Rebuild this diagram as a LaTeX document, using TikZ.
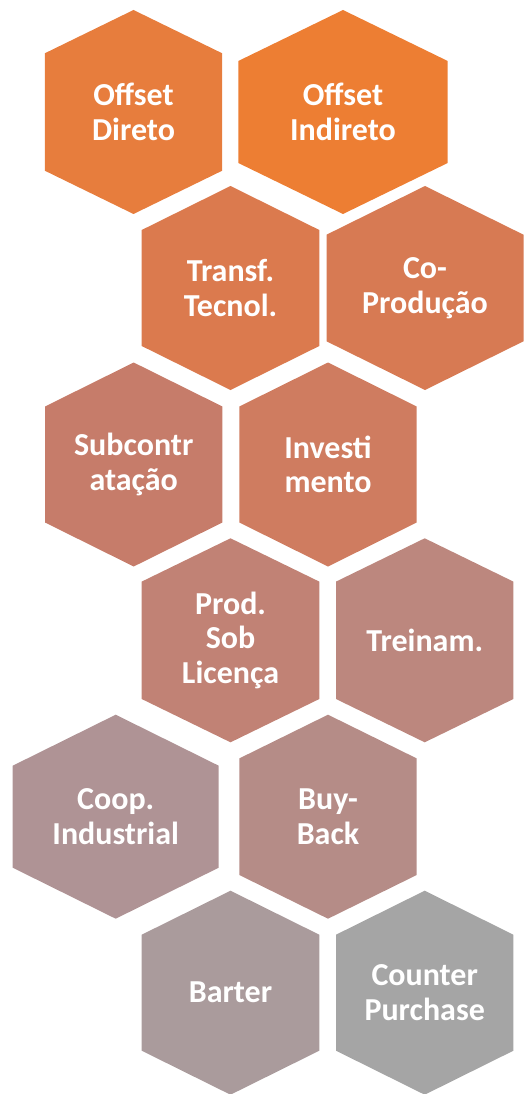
\documentclass[tikz,border=0pt]{standalone}
\usepackage{fontspec}
\setmainfont{Carlito}
\definecolor{cA}{HTML}{E77D3D}
\definecolor{cB}{HTML}{ED7E33}
\definecolor{cC}{HTML}{DB7A4E}
\definecolor{cD}{HTML}{D77A53}
\definecolor{cE}{HTML}{C67C6A}
\definecolor{cF}{HTML}{CF7C60}
\definecolor{cG}{HTML}{C18275}
\definecolor{cH}{HTML}{BC877E}
\definecolor{cI}{HTML}{AF9395}
\definecolor{cJ}{HTML}{B58C87}
\definecolor{cK}{HTML}{AA9B9C}
\definecolor{cL}{HTML}{A5A5A5}
\tikzset{hexlabel/.style={text=white, font=\bfseries\fontsize{32}{34.5}\selectfont, align=center, inner sep=0pt}}
\newcommand{\hexcell}[7]{%
  \fill[#6] (#2,#3-102) -- (#2+#4,#3-#5) -- (#2+#4,#3+#5) -- (#2,#3+102) -- (#2-#4,#3+#5) -- (#2-#4,#3-#5) -- cycle;
  \node[hexlabel] (#1) at (#2,#3) {#7};
}
\begin{document}
\begin{tikzpicture}[x=1pt,y=-1pt]
\useasboundingbox (0,0) rectangle (524,1094);
\hexcell{direto}{133.5}{112}{88.7}{58.7}{cA}{Offset\\Direto}
\hexcell{indireto}{343}{112}{104.7}{51}{cB}{Offset\\Indireto}
\hexcell{transf}{230.5}{288}{88.8}{58}{cC}{Transf.\\Tecnol.}
\hexcell{coprod}{425}{288}{98.5}{53.3}{cD}{Co-\\Produção}
\hexcell{subcontr}{133.7}{464.5}{88.7}{58}{cE}{Subcontr\\atação}
\hexcell{invest}{328}{464.5}{88.7}{58}{cF}{Investi\\mento}
\hexcell{prod}{230.5}{640.3}{88.8}{58.7}{cG}{Prod.\\Sob\\Licença}
\hexcell{treinam}{424.7}{640.3}{88.7}{58.7}{cH}{Treinam.}
\hexcell{coop}{115.7}{816.7}{103}{51}{cI}{Coop.\\Industrial}
\hexcell{buyback}{328}{816.7}{88.7}{58.3}{cJ}{Buy-\\Back}
\hexcell{barter}{230.5}{992.7}{88.8}{58}{cK}{Barter}
\hexcell{counter}{424.7}{992.7}{88.7}{58}{cL}{Counter\\Purchase}
\end{tikzpicture}
\end{document}
